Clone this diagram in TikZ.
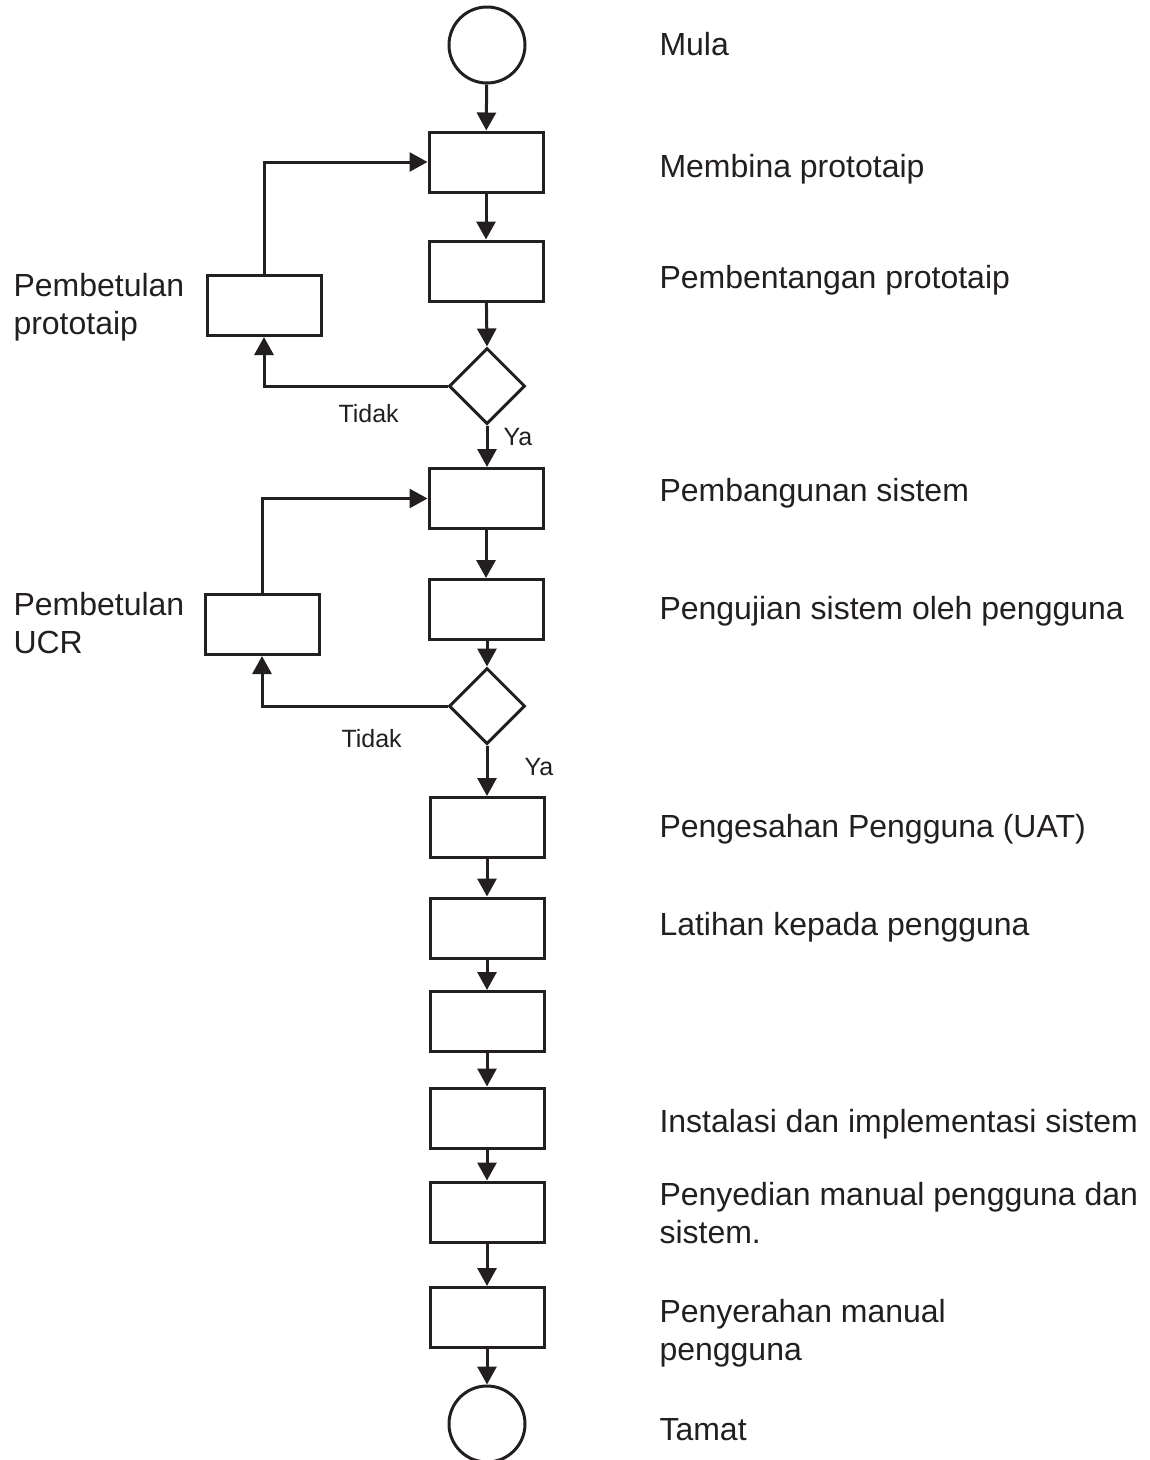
\documentclass[tikz,border=0pt]{standalone}
\usepackage{fontspec}
\setmainfont{Liberation Sans}
\usetikzlibrary{arrows.meta,shapes.geometric}
\definecolor{ink}{RGB}{35,31,32}
\begin{document}
\begin{tikzpicture}[x=1pt,y=-1pt,
  line width=3pt,
  proc/.style={draw=ink, rectangle, minimum width=114pt, minimum height=60pt, inner sep=0pt},
  term/.style={draw=ink, circle, minimum size=76pt, inner sep=0pt},
  dec/.style={draw=ink, diamond, minimum width=76pt, minimum height=76pt, inner sep=0pt, aspect=1},
  arr/.style={draw=ink, -{Triangle[length=18pt,width=19pt]}},
  lbl/.style={anchor=base west, inner sep=0pt, font=\fontsize{32}{38}\selectfont, text=ink, align=left},
  small/.style={anchor=base west, inner sep=0pt, font=\fontsize{25}{30}\selectfont, text=ink}
]
\useasboundingbox (0,0) rectangle (1150,1460);
% main column
\node[term] (c1) at (487,45) {};
\node[proc] (b1) at (486,162) {};
\node[proc] (b2) at (486,271) {};
\node[dec]  (d1) at (487,386) {};
\node[proc] (b3) at (486,498.5) {};
\node[proc] (b4) at (486,609.5) {};
\node[dec]  (d2) at (487,706) {};
\node[proc] (b5) at (487,827.5) {};
\node[proc] (b6) at (487,928) {};
\node[proc] (b7) at (487,1021.5) {};
\node[proc] (b8) at (487,1118) {};
\node[proc] (b9) at (487,1212) {};
\node[proc] (b10) at (487,1317.5) {};
\node[term] (c2) at (487,1424) {};
% side boxes
\node[proc] (p1) at (264,305.5) {};
\node[proc] (p2) at (262,624.5) {};
% connectors
\draw[arr] (c1) -- (b1);
\draw[arr] (b1) -- (b2);
\draw[arr] (b2) -- (d1.north);
\draw[arr] (d1.south) -- (b3.north -| d1.south);
\draw[arr] (b3) -- (b4);
\draw[arr] (b4.south -| d2.north) -- (d2.north);
\draw[arr] (d2.south) -- (b5);
\draw[arr] (b5) -- (b6);
\draw[arr] (b6) -- (b7);
\draw[arr] (b7) -- (b8);
\draw[arr] (b8) -- (b9);
\draw[arr] (b9) -- (b10);
\draw[arr] (b10) -- (c2);
\draw[arr] (d1.west) -| (p1.south);
\draw[arr] (p1.north) |- (b1.west);
\draw[arr] (d2.west) -| (p2.south);
\draw[arr] (p2.north) |- (b3.west);
% labels
\node[small] (t1) at (337,422) {Tidak};
\node[small] (y1) at (502,445) {Ya};
\node[small] (t2) at (340,747) {Tidak};
\node[small] (y2) at (523,775) {Ya};
\node[lbl] (l0) at (658,55) {Mula};
\node[lbl] (l1) at (658,177) {Membina prototaip};
\node[lbl] (l2) at (658,288) {Pembentangan prototaip};
\node[lbl] (l3) at (658,501) {Pembangunan sistem};
\node[lbl] (l4) at (658,619) {Pengujian sistem oleh pengguna};
\node[lbl] (l5) at (658,837) {Pengesahan Pengguna (UAT)};
\node[lbl] (l6) at (658,935) {Latihan kepada pengguna};
\node[lbl] (l7) at (658,1132) {Instalasi dan implementasi sistem};
\node[lbl] (l8) at (658,1243) {Penyedian manual pengguna dan\\sistem.};
\node[lbl] (l9) at (658,1360) {Penyerahan manual\\pengguna};
\node[lbl] (l10) at (658,1440) {Tamat};
\node[lbl] (s1) at (12,334) {Pembetulan\\prototaip};
\node[lbl] (s2) at (12,653) {Pembetulan\\UCR};
\end{tikzpicture}
\end{document}
